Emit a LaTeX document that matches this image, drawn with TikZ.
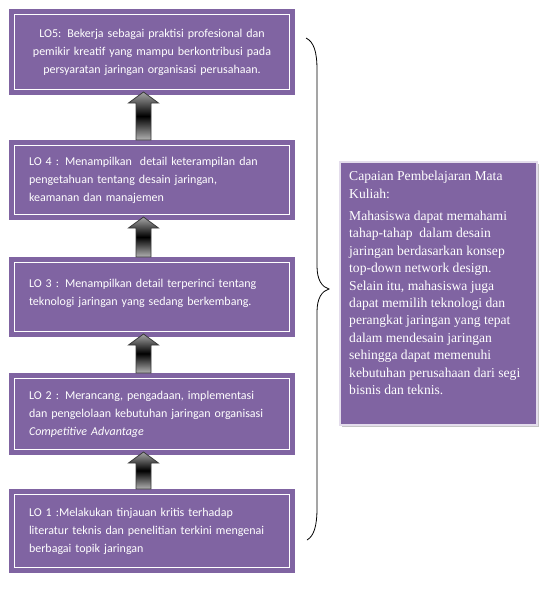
\documentclass[tikz,border=0pt]{standalone}
\usepackage{fontspec}
\setmainfont{Carlito}
\newfontfamily\cloFont{Liberation Serif}
\usetikzlibrary{
  positioning,
  calc,
  shadows
}
\definecolor{loPurple}{HTML}{8064A2}
\definecolor{loPurpleL}{HTML}{E4DDEC}
\definecolor{arrowEdge}{HTML}{3A3A3A}

% block arrow from the top of one box to the bottom of the next
\newcommand\blockarrow[2]{%
  \path[blockarr] let \p1=($(#1.north)+(-8.5pt,0pt)$), \p2=($(#2.south)+(-8.5pt,0pt)$) in
    (\x1-7.5pt,\y1) -- (\x1-7.5pt,\y2-8pt) -- (\x1-15pt,\y2-8pt) -- (\x1,\y2+3pt)
    -- (\x1+15pt,\y2-8pt) -- (\x1+7.5pt,\y2-8pt) -- (\x1+7.5pt,\y1) -- cycle;}

\begin{document}
\begin{tikzpicture}[
  x=1pt, y=-1pt,
  every node/.style={font=\fontsize{12}{18}\selectfont, text=white},
  lobox/.style={
    rectangle, fill=loPurple, draw=white, line width=1.6pt,
    preaction={draw=loPurple, line width=11pt},
    outer sep=5.5pt, inner xsep=14.5pt, inner ysep=0pt,
    text width=246pt, align=left,
    minimum width=275pt, minimum height=71pt
  },
  clobox/.style={
    rectangle, fill=loPurple, draw=loPurpleL, line width=2pt,
    drop shadow={shadow xshift=2pt, shadow yshift=-2pt, opacity=0.45},
    minimum width=197pt, minimum height=263pt
  },
  blockarr/.style={
    draw=arrowEdge, line width=0.8pt, line join=miter,
    top color=gray!70, bottom color=gray!60, middle color=black
  },
  braceline/.style={draw=black, line width=0.8pt}
]
 % page size 551 x 597
 \path[fill=white] (0,0) rectangle (551,597);
 \useasboundingbox (0,0) rectangle (551,597);

 % Learning outcomes, top (LO5) to bottom (LO1)
 \node[lobox, align=center, text width=262pt, inner xsep=6.5pt,
       minimum height=75pt] (lo5) at (152,52)
   {LO5: Bekerja sebagai praktisi profesional dan\\
    pemikir kreatif yang mampu berkontribusi pada\\
    persyaratan jaringan organisasi perusahaan.};
 \node[lobox, minimum height=69pt] (lo4) at (152,180)
   {LO 4 : Menampilkan\ \ detail keterampilan dan\\
    pengetahuan tentang desain jaringan,\\
    keamanan dan manajemen};
 \node[lobox, minimum height=69pt] (lo3) at (152,297)
   {LO 3 : Menampilkan detail terperinci tentang\\
    teknologi jaringan yang sedang berkembang.\\[-8pt]\mbox{}};
 \node[lobox] (lo2) at (152,414)
   {LO 2 : Merancang, pengadaan, implementasi\\
    dan pengelolaan kebutuhan jaringan organisasi\\
    \textit{Competitive Advantage}};
 \node[lobox, minimum height=73pt] (lo1) at (152,531)
   {LO 1 :Melakukan tinjauan kritis terhadap\\
    literatur teknis dan penelitian terkini mengenai\\
    berbagai topik jaringan};

 % Arrows between the levels
 \blockarrow{lo4}{lo5}
 \blockarrow{lo3}{lo4}
 \blockarrow{lo2}{lo3}
 \blockarrow{lo1}{lo2}

 % Brace grouping the outcomes
 \draw[braceline] (306,38) .. controls (314,42) and (317,52) .. (317,70)
   -- (317,266) .. controls (317,280) and (322,287) .. (329,289)
   .. controls (322,291) and (317,298) .. (317,312)
   -- (317,508) .. controls (317,526) and (314,536) .. (307,540);

 % Course learning outcome
 \node[clobox] (clo) at (438.5,293.5) {};
 \node[anchor=north west, inner sep=0pt, align=left,
       font=\cloFont\fontsize{13.6}{17.4}\selectfont]
   (clotext) at ($(clo.north west)+(10,10)$)
   {Capaian Pembelajaran Mata\\
    Kuliah:\\[5pt]
    Mahasiswa dapat memahami\\
    tahap-tahap\ \ dalam desain\\
    jaringan berdasarkan konsep\\
    top-down network design.\\
    Selain itu, mahasiswa juga\\
    dapat memilih teknologi dan\\
    perangkat jaringan yang tepat\\
    dalam mendesain jaringan\\
    sehingga dapat memenuhi\\
    kebutuhan perusahaan dari segi\\
    bisnis dan teknis.};
\end{tikzpicture}
\end{document}
